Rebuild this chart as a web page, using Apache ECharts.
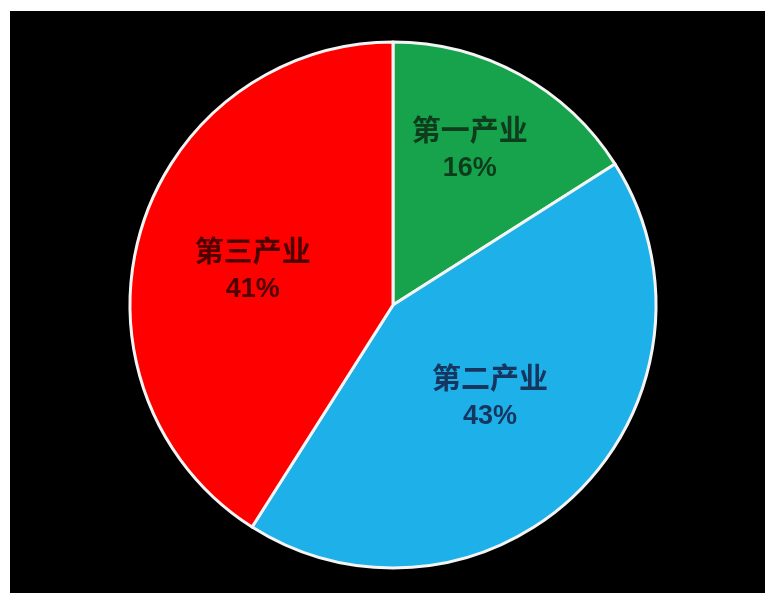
<!DOCTYPE html>
<html>
<head>
<meta charset="utf-8">
<script src="https://cdn.jsdelivr.net/npm/echarts@6/dist/echarts.min.js"></script>
<style>
html,body{margin:0;padding:0;background:#fff;width:765px;height:593px;overflow:hidden;}
#c{position:absolute;left:10px;top:11px;width:755px;height:582px;}
</style>
</head>
<body>
<div id="c"></div>
<script>
var categories = ['第一产业', '第二产业', '第三产业'];
var values = [16, 43, 41];
var colors = ['#17a34c', '#1eb0e8', '#ff0000'];
var labelColors = ['#0e3c1c', '#15365f', '#4d0000'];

var chart = echarts.init(document.getElementById('c'));
var data = categories.map(function (n, i) {
  return {
    name: n, value: values[i],
    itemStyle: { color: colors[i] },
    label: { rich: {
      a: { color: labelColors[i], fontSize: 29, fontWeight: 'bold', fontFamily: 'Noto Sans CJK SC', lineHeight: 38 },
      p: { color: labelColors[i], fontSize: 27, fontWeight: 'bold', fontFamily: 'Liberation Sans, Arial', lineHeight: 38 }
    } }
  };
});
chart.setOption({
  backgroundColor: '#000',
  animation: false,
  series: [{
    type: 'pie',
    center: [383, 294],
    radius: [0, 263],
    startAngle: 90,
    clockwise: true,
    data: data,
    itemStyle: { borderColor: '#f4f4f4', borderWidth: 3 },
    label: {
      position: 'inside',
      formatter: function (p) { return '{a|' + p.name + '}\n{p|' + p.value + '%}'; }
    },
    labelLine: { show: false },
    labelLayout: function (p) {
      if (p.dataIndex === 0) return { dx: 12, dy: -38 };
      if (p.dataIndex === 1) return { dx: 2, dy: -3 };
      if (p.dataIndex === 2) return { dx: -11, dy: 3 };
      return {};
    }
  }]
});
</script>
</body>
</html>
